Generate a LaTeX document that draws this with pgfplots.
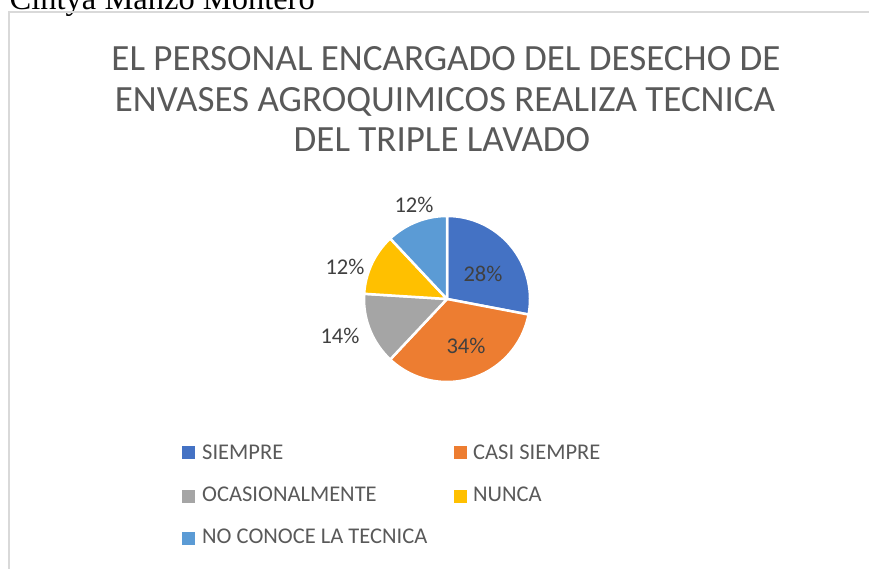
\documentclass[border=0pt]{standalone}
\usepackage{pgfplots}
\pgfplotsset{compat=1.18}
\usepackage{pgfplotstable}
\usepackage{fontspec}
\setmainfont{Carlito}
\newfontfamily\timesfont{Liberation Serif}
\definecolor{pieA}{HTML}{4472C4}
\definecolor{pieB}{HTML}{ED7D31}
\definecolor{pieC}{HTML}{A5A5A5}
\definecolor{pieD}{HTML}{FFC000}
\definecolor{pieE}{HTML}{5B9BD5}
\definecolor{titlegray}{HTML}{595959}
\definecolor{labelgray}{HTML}{404040}
\definecolor{bordergray}{HTML}{D9D9D9}

\pgfplotstableread{
value
28
34
14
12
12
}\pietable

\newcommand\piewedge[3]{%
  \addplot[fill=#1, draw=white, line width=2.5pt, line join=round,
    domain=-0.01:1.01, samples=103, variable=\t]
  ({(\t<-0.005 || \t>1.005) ? 0 : cos(#2+(#3-#2)*min(max(\t,0),1))},
   {(\t<-0.005 || \t>1.005) ? 0 : sin(#2+(#3-#2)*min(max(\t,0),1))});}

\begin{document}
\begin{tikzpicture}[x=1pt,y=1pt]
\useasboundingbox (0,0) rectangle (869,569);
\pgfplotstablegetelem{0}{value}\of\pietable\edef\va{\pgfplotsretval}
\pgfplotstablegetelem{1}{value}\of\pietable\edef\vb{\pgfplotsretval}
\pgfplotstablegetelem{2}{value}\of\pietable\edef\vc{\pgfplotsretval}
\pgfplotstablegetelem{3}{value}\of\pietable\edef\vd{\pgfplotsretval}
\pgfplotstablegetelem{4}{value}\of\pietable\edef\ve{\pgfplotsretval}
\pgfmathsetmacro\aS{90}
\pgfmathsetmacro\aA{\aS-3.6*\va}
\pgfmathsetmacro\aB{\aA-3.6*\vb}
\pgfmathsetmacro\aC{\aB-3.6*\vc}
\pgfmathsetmacro\aD{\aC-3.6*\vd}
\pgfmathsetmacro\aE{\aD-3.6*\ve}

% cut-off text above the chart
\node[anchor=base east, font=\timesfont\fontsize{32.5}{36}\selectfont, inner sep=0] at (315,559.5) {: Cintya Manzo Montero};

% chart area border
\draw[bordergray, line width=1.5pt] (9,-5) -- (9,557) -- (875,557);

% title
\begin{scope}[every node/.style={font=\fontsize{37}{41}\selectfont, text=titlegray, anchor=base, inner sep=0}]
\node at (446,498) {EL PERSONAL ENCARGADO DEL DESECHO DE};
\node at (445,457) {ENVASES AGROQUIMICOS REALIZA TECNICA};
\node at (442,417) {DEL TRIPLE LAVADO};
\end{scope}

\coordinate (piec) at (447,270);
\begin{axis}[at={(piec)}, anchor=center, hide axis, scale only axis,
  width=166pt, height=166pt, xmin=-1, xmax=1, ymin=-1, ymax=1, clip=false]
\piewedge{pieA}{\aS}{\aA}
\piewedge{pieB}{\aA}{\aB}
\piewedge{pieC}{\aB}{\aC}
\piewedge{pieD}{\aC}{\aD}
\piewedge{pieE}{\aD}{\aE}
\begin{scope}[every node/.style={font=\fontsize{22.5}{27}\selectfont, text=labelgray, inner sep=0}]
\node at (axis cs:0.434,0.301) {\va\%};
\node at (axis cs:0.229,-0.566) {\vb\%};
\node at (axis cs:-1.289,-0.446) {\vc\%};
\node at (axis cs:-1.229,0.386) {\vd\%};
\node at (axis cs:-0.398,1.133) {\ve\%};
\end{scope}
\end{axis}

% legend
\fill[pieA] (182,110) rectangle (195,123);
\fill[pieB] (454,110) rectangle (467,123);
\fill[pieC] (182,66) rectangle (195,79);
\fill[pieD] (454,66) rectangle (467,79);
\fill[pieE] (182,24) rectangle (195,37);
\begin{scope}[every node/.style={font=\fontsize{22.5}{27}\selectfont, text=titlegray, anchor=base west, inner sep=0}]
\node at (202,109) {SIEMPRE};
\node at (473,109) {CASI SIEMPRE};
\node at (202,67) {OCASIONALMENTE};
\node at (473,67) {NUNCA};
\node at (202,25) {NO CONOCE LA TECNICA};
\end{scope}
\end{tikzpicture}
\end{document}
